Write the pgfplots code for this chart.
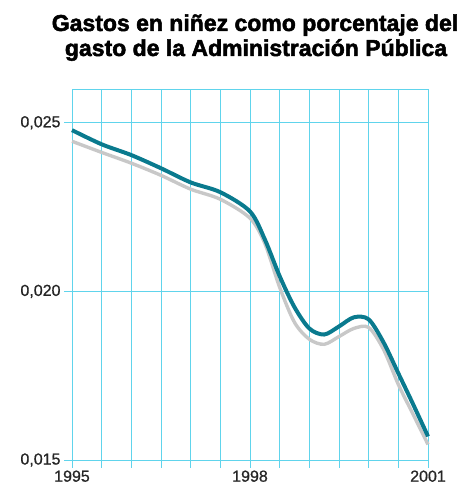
\documentclass[border=0pt]{standalone}
\usepackage{fontspec}
\setmainfont{Liberation Sans}
\newfontfamily\titlefont[FakeBold=2.2]{Liberation Sans Bold}
\newfontfamily\tickfont[FakeBold=0.8]{Liberation Sans}
\usepackage{pgfplots}
\pgfplotsset{compat=1.18}
\usepackage{pgfplotstable}

\definecolor{gridcyan}{RGB}{96,212,236}
\definecolor{lineteal}{RGB}{10,122,142}
\definecolor{shadowgray}{RGB}{200,200,200}

% Spending on children, share of public administration spending
\pgfplotstableread{
year    share
1995.00 0.02478
1995.50 0.02436
1996.00 0.02404
1996.50 0.02365
1997.00 0.02323
1997.50 0.02294
1998.00 0.02237
1998.25 0.02154
1998.50 0.02045
1998.75 0.01953
1999.00 0.01890
1999.25 0.01872
1999.50 0.01896
1999.75 0.01923
2000.00 0.01917
2000.25 0.01849
2000.50 0.01757
2000.75 0.01665
2001.00 0.01570
}\mainseries

% Lighter companion series drawn beneath
\pgfplotstableread{
year    share
1995.00 0.02445
1995.50 0.02412
1996.00 0.02380
1996.50 0.02344
1997.00 0.02303
1997.50 0.02273
1998.00 0.02217
1998.25 0.02142
1998.50 0.02012
1998.75 0.01908
1999.00 0.01858
1999.25 0.01843
1999.50 0.01866
1999.75 0.01890
2000.00 0.01893
2000.25 0.01828
2000.50 0.01724
2000.75 0.01635
2001.00 0.01546
}\shadowseries

\tikzset{cyangrid/.style={draw=gridcyan, line width=0.8pt}}

\begin{document}
\begin{tikzpicture}[x=1pt,y=1pt]
\useasboundingbox (0,0) rectangle (465,492);
\node[anchor=base,font=\titlefont\fontsize{23}{25}\selectfont] at (255,461)
  {Gastos en niñez como porcentaje del};
\node[anchor=base,font=\titlefont\fontsize{23}{25}\selectfont] at (256,436)
  {gasto de la Administración Pública};
\begin{axis}[
  at={(72pt,32pt)}, anchor=south west,
  scale only axis, width=356pt, height=371pt,
  xmin=1995, xmax=2001, ymin=0.015, ymax=0.026,
  scaled y ticks=false,
  xtick={1995,1998,2001},
  xticklabels={1995,1998,2001},
  minor xtick={1995.5,1996,1996.5,1997,1997.5,1998.5,1999,1999.5,2000,2000.5},
  ytick={0.015,0.020,0.025},
  yticklabels={{0,015},{0,020},{0,025}},
  axis line style={cyangrid},
  tick pos=left, tick align=outside,
  major tick length=8pt, minor tick length=8pt,
  every tick/.style={cyangrid},
  xticklabel style={font=\tickfont\fontsize{16}{16}\selectfont, text=black!85, yshift=1pt},
  yticklabel style={font=\tickfont\fontsize{16}{16}\selectfont, text=black!85},
  clip=false,
]
% grid: every half year across, two reference levels up
\pgfplotsinvokeforeach{1995.5,1996,1996.5,1997,1997.5,1998,1998.5,1999,1999.5,2000,2000.5}{
  \addplot[cyangrid, forget plot] coordinates {(#1,0.015) (#1,0.026)};
}
\pgfplotsinvokeforeach{0.020,0.025}{
  \addplot[cyangrid, forget plot] coordinates {(1995,#1) (2001,#1)};
}
\addplot[shadowgray, line width=3.4pt, smooth] table[x=year,y=share] {\shadowseries};
\addplot[lineteal, line width=4pt, smooth] table[x=year,y=share] {\mainseries};
\end{axis}
\end{tikzpicture}
\end{document}
